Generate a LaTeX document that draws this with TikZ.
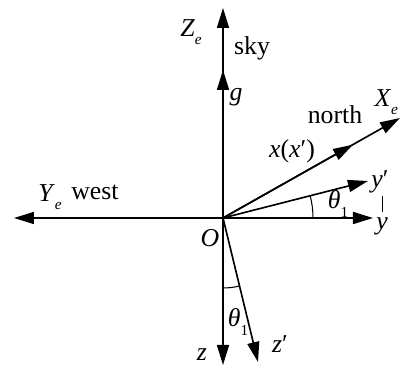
\documentclass[tikz,border=0pt]{standalone}
\usepackage{fontspec}
\setmainfont{Liberation Serif}
\usepackage{tikz}
\usetikzlibrary{arrows.meta}
\newcommand{\lowsub}[1]{\raisebox{-0.32em}{\fontsize{13}{15}\selectfont #1}}

\begin{document}
\begin{tikzpicture}[
    axis/.style={line width=1.4pt, -{Triangle[length=0.6cm, width=0.36cm]}},
    arcline/.style={line width=0.9pt},
    lbl/.style={font=\fontsize{22}{26}\selectfont, inner sep=0pt}]
    \useasboundingbox (-6.69, -4.47) rectangle (5.34, 6.54);
    % Axis ends
    \coordinate (origin) at (0, 0);
    \coordinate (zetip) at (0, 6.3);
    \coordinate (gtip) at (0, 4.44);
    \coordinate (ztip) at (0, -4.41);
    \coordinate (yetip) at (-6.27, 0);
    \coordinate (ytip) at (4.5, 0);
    \coordinate (xetip) at (5.31, 3.0);
    \coordinate (xtip) at (3.9, 2.2);
    \coordinate (yptip) at (4.35, 1.11);
    \coordinate (zptip) at (1.05, -4.32);

    % Axes
    \draw[axis] (origin) -- (zetip);
    \draw[axis] (origin) -- (gtip);
    \draw[axis] (origin) -- (ztip);
    \draw[axis] (origin) -- (yetip);
    \draw[axis] (origin) -- (ytip);
    \draw[axis] (origin) -- (xetip);
    \draw[axis] (origin) -- (xtip);
    \draw[axis] (origin) -- (yptip);
    \draw[axis] (origin) -- (zptip);

    % Angles
    \draw[arcline] (2.7, 0) arc[start angle=0, end angle=14.3, radius=2.7];
    \draw[arcline] (0, -2.1) arc[start angle=-90, end angle=-76.3, radius=2.1];
    \draw[line width=0.6pt] (4.77, 0.66) -- (4.77, 0.18);

    % Labels
    \node[lbl] (zelabel) at (-0.96, 5.58) {\textit{Z}\lowsub{\textit{e}}};
    \node[lbl] (sky) at (0.87, 5.1) {sky};
    \node[lbl] (glabel) at (0.39, 3.63) {\textit{g}};
    \node[lbl] (north) at (3.36, 3.09) {north};
    \node[lbl] (xelabel) at (4.9, 3.48) {\textit{X}\lowsub{\textit{e}}};
    \node[lbl] (xlabel) at (2.07, 2.01) {\textit{x}(\textit{x}′)};
    \node[lbl] (yplabel) at (4.71, 1.08) {\textit{y}′};
    \node[lbl] (thetay) at (3.45, 0.42) {\textit{θ}\lowsub{1}};
    \node[lbl] (ylabel) at (4.77, -0.24) {\textit{y}};
    \node[lbl] (olabel) at (-0.39, -0.6) {\textit{O}};
    \node[lbl] (yelabel) at (-5.19, 0.63) {\textit{Y}\lowsub{\textit{e}}};
    \node[lbl] (west) at (-3.84, 0.78) {west};
    \node[lbl] (thetaz) at (0.45, -3.12) {\textit{θ}\lowsub{1}};
    \node[lbl] (zlabel) at (-0.63, -4.11) {\textit{z}};
    \node[lbl] (zplabel) at (1.71, -3.78) {\textit{z}′};
\end{tikzpicture}
\end{document}
